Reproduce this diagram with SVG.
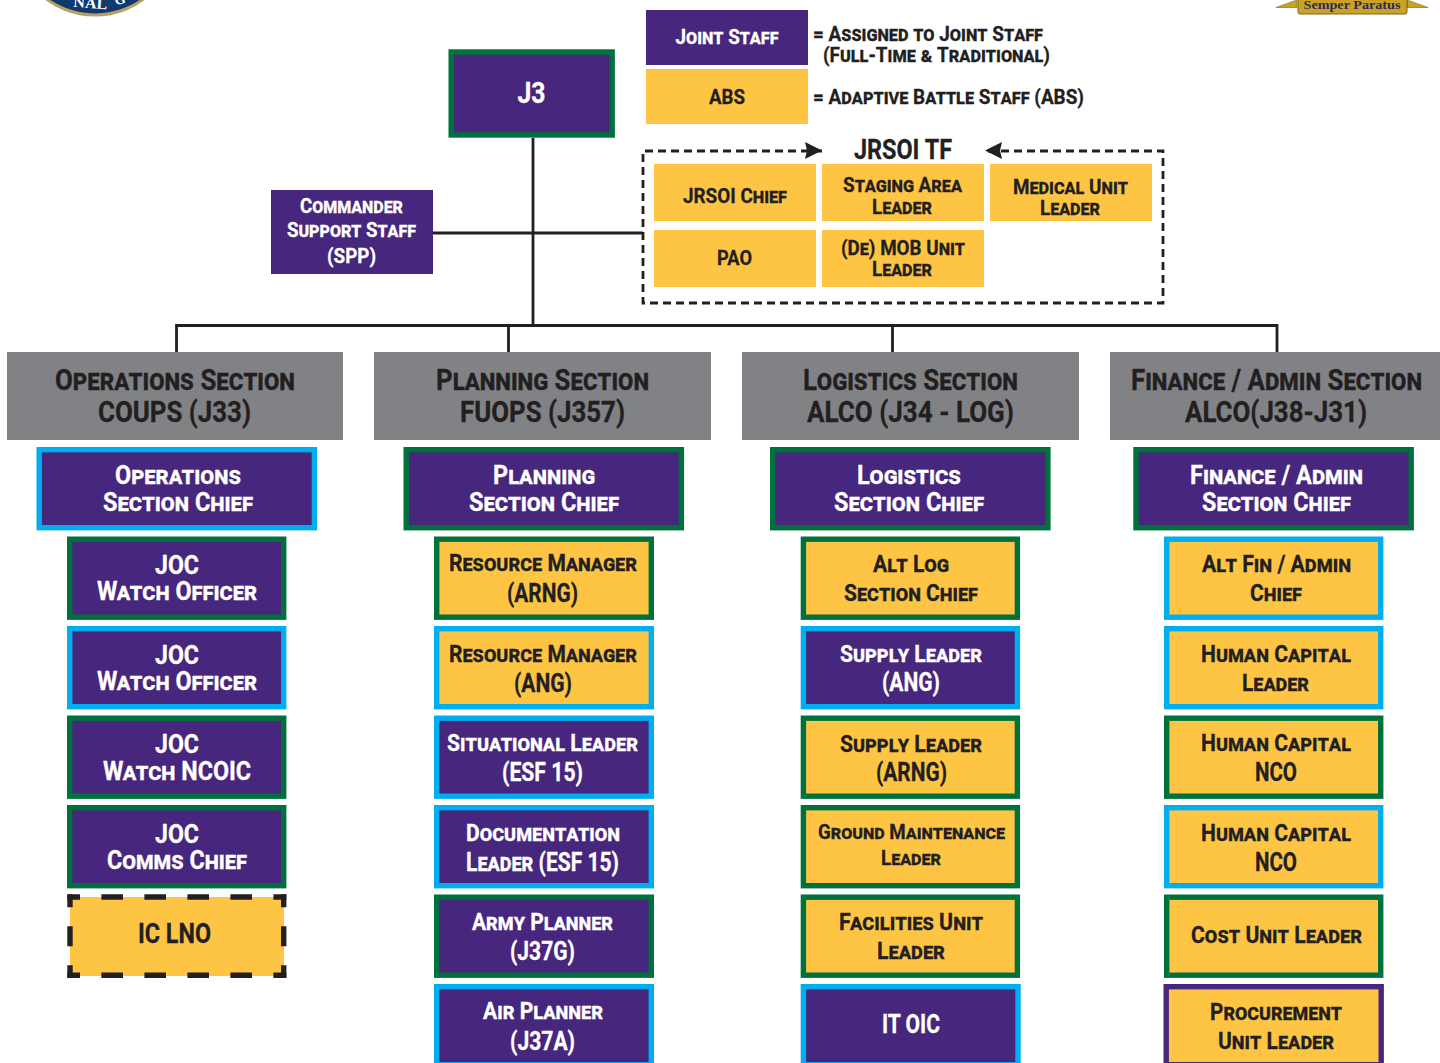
<svg xmlns="http://www.w3.org/2000/svg" width="1440" height="1063" viewBox="0 0 1440 1063">
<defs>
<style>
text{font-family:Roboto,"Liberation Sans",sans-serif;font-weight:700;font-variant:small-caps;text-anchor:middle;fill:#231f20;stroke:#231f20;stroke-width:.3}
.w{fill:#fff;stroke:#fff}
.s21{font-size:21px}.s23{font-size:23px}.s25{font-size:25px}.s28{font-size:29px}.s20{font-size:20px}
.l{text-anchor:start}
.serif{font-family:"Liberation Serif",serif;font-variant:normal;stroke-width:0}
.p{fill:#47267d}.y{fill:#fec544}.g{fill:#808285}
.bg{stroke:#00703c;stroke-width:5.4}.bc{stroke:#00aeef;stroke-width:5.4}.bp{stroke:#47267d;stroke-width:5.4}
.c{fill:none;stroke:#231f20;stroke-width:2.8}
.d{fill:none;stroke:#231f20;stroke-width:2.8;stroke-dasharray:8 5}
.ic{fill:none;stroke:#231f20;stroke-width:5.4}
</style>
</defs>
<rect width="1440" height="1063" fill="#fff"/>
<g id="seal">
<circle cx="95" cy="-67" r="82" fill="#0f3a6e" stroke="#b9a063" stroke-width="3"/>
<text x="90" y="8" class="w serif" style="font-size:15px" textLength="34" lengthAdjust="spacingAndGlyphs" transform="rotate(4 90 8)">NAL</text>
<text x="121" y="4" class="w serif" style="font-size:14px" transform="rotate(-14 121 4)">G</text>
</g>
<g id="motto">
<path d="M1276 7.500 L1297 0 L1297 7.500Z M1428 7.500 L1407 0 L1407 7.500Z" fill="#c9a227" stroke="#7a6418" stroke-width=".6"/>
<rect x="1298" y="-4" width="109" height="18" rx="2" fill="#c9a227" stroke="#7a6418"/>
<text x="1352" y="9" class="serif" style="font-size:12.5px;fill:#2b2c55" textLength="97" lengthAdjust="spacingAndGlyphs">Semper Paratus</text>
</g>
<g id="connectors">
<path class="c" d="M533 138V325M433 233H643M176.500 352V325.500H1277V352M508.500 325.500V352M892.500 325.500V352"/>
<path class="d" d="M822 151H643V303H1163V151H985"/>
<path d="M805 142 L822 150.500 L805 159 L807 150.500Z M985 150.500 L1002 142 L1000 150.500 L1002 159Z" fill="#231f20"/>
</g>
<g id="j3"><rect class="p bg" x="451.200" y="52" width="161" height="83"/><text class="w s28" x="531.500" y="103" textLength="28" lengthAdjust="spacingAndGlyphs">J3</text></g>
<g id="css"><rect class="p" x="271" y="190" width="162" height="84"/><text class="w s21" x="351.500" y="213" textLength="103" lengthAdjust="spacingAndGlyphs">Commander</text><text class="w s21" x="351.500" y="237" textLength="129" lengthAdjust="spacingAndGlyphs">Support Staff</text><text class="w s21" x="351.500" y="263" textLength="49" lengthAdjust="spacingAndGlyphs">(SPP)</text></g>
<g id="legend-js"><rect class="p" x="646" y="10" width="162" height="55"/><text class="w s21" x="727" y="44" textLength="103" lengthAdjust="spacingAndGlyphs">Joint Staff</text></g>
<g id="legend-abs"><rect class="y" x="646" y="69" width="162" height="55"/><text class="s21" x="727" y="104" textLength="36" lengthAdjust="spacingAndGlyphs">ABS</text></g>
<g id="legend-text">
<text class="s21 l" x="813" y="41" textLength="230" lengthAdjust="spacingAndGlyphs">= Assigned to Joint Staff</text>
<text class="s21 l" x="823" y="62" textLength="227" lengthAdjust="spacingAndGlyphs">(Full-Time &amp; Traditional)</text>
<text class="s21 l" x="813" y="104" textLength="271" lengthAdjust="spacingAndGlyphs">= Adaptive Battle Staff (ABS)</text>
</g>
<g id="jrsoi-title"><text class="s28" x="903" y="159" textLength="98" lengthAdjust="spacingAndGlyphs" style="font-size:28px">JRSOI TF</text></g>
<g id="jrsoi-chief"><rect class="y" x="654" y="164" width="162" height="57"/><text class="s21" x="735" y="203" textLength="104" lengthAdjust="spacingAndGlyphs">JRSOI Chief</text></g>
<g id="staging"><rect class="y" x="822" y="164" width="162" height="57"/><text class="s21" x="902.500" y="192" textLength="119" lengthAdjust="spacingAndGlyphs">Staging Area</text><text class="s21" x="902" y="214" textLength="60" lengthAdjust="spacingAndGlyphs">Leader</text></g>
<g id="medical"><rect class="y" x="990" y="164" width="162" height="57"/><text class="s21" x="1070.500" y="194" textLength="115" lengthAdjust="spacingAndGlyphs">Medical Unit</text><text class="s21" x="1070" y="215" textLength="60" lengthAdjust="spacingAndGlyphs">Leader</text></g>
<g id="pao"><rect class="y" x="654" y="230" width="162" height="57"/><text class="s21" x="734.500" y="265" textLength="35" lengthAdjust="spacingAndGlyphs">PAO</text></g>
<g id="demob"><rect class="y" x="822" y="230" width="162" height="57"/><text class="s21" x="903" y="255" textLength="124" lengthAdjust="spacingAndGlyphs">(De) MOB Unit</text><text class="s21" x="902" y="276" textLength="60" lengthAdjust="spacingAndGlyphs">Leader</text></g>

<g id="sec-ops"><rect class="g" x="7" y="352" width="336" height="88"/><text class="s28" x="175" y="390" textLength="240" lengthAdjust="spacingAndGlyphs">Operations Section</text><text class="s28" x="174.500" y="422" textLength="153" lengthAdjust="spacingAndGlyphs">COUPS (J33)</text></g>
<g id="sec-plan"><rect class="g" x="374" y="352" width="337" height="88"/><text class="s28" x="542.500" y="390" textLength="213" lengthAdjust="spacingAndGlyphs">Planning Section</text><text class="s28" x="542.500" y="422" textLength="165" lengthAdjust="spacingAndGlyphs">FUOPS (J357)</text></g>
<g id="sec-log"><rect class="g" x="742" y="352" width="337" height="88"/><text class="s28" x="910.500" y="390" textLength="215" lengthAdjust="spacingAndGlyphs">Logistics Section</text><text class="s28" x="910.500" y="422" textLength="207" lengthAdjust="spacingAndGlyphs">ALCO (J34 - LOG)</text></g>
<g id="sec-fin"><rect class="g" x="1110" y="352" width="330" height="88"/><text class="s28" x="1276.500" y="390" textLength="291" lengthAdjust="spacingAndGlyphs">Finance / Admin Section</text><text class="s28" x="1276" y="422" textLength="182" lengthAdjust="spacingAndGlyphs">ALCO(J38-J31)</text></g>

<g id="chief-ops"><rect class="p bc" x="39.200" y="449.700" width="275.200" height="78"/><text class="w s25" x="178" y="484" textLength="126" lengthAdjust="spacingAndGlyphs">Operations</text><text class="w s25" x="178" y="511" textLength="150" lengthAdjust="spacingAndGlyphs">Section Chief</text></g>
<g id="chief-plan"><rect class="p bg" x="406.200" y="449.700" width="275.200" height="78"/><text class="w s25" x="544" y="484" textLength="102" lengthAdjust="spacingAndGlyphs">Planning</text><text class="w s25" x="544" y="511" textLength="150" lengthAdjust="spacingAndGlyphs">Section Chief</text></g>
<g id="chief-log"><rect class="p bg" x="772.700" y="449.700" width="275.200" height="78"/><text class="w s25" x="909" y="484" textLength="104" lengthAdjust="spacingAndGlyphs">Logistics</text><text class="w s25" x="909" y="511" textLength="150" lengthAdjust="spacingAndGlyphs">Section Chief</text></g>
<g id="chief-fin"><rect class="p bg" x="1136" y="449.700" width="275.200" height="78"/><text class="w s25" x="1276.500" y="484" textLength="173" lengthAdjust="spacingAndGlyphs">Finance / Admin</text><text class="w s25" x="1276.500" y="511" textLength="149" lengthAdjust="spacingAndGlyphs">Section Chief</text></g>

<g id="ops1"><rect class="p bg" x="69.700" y="539.200" width="214" height="78"/><text class="w s25" x="177" y="574" textLength="44" lengthAdjust="spacingAndGlyphs">JOC</text><text class="w s25" x="177" y="600" textLength="160" lengthAdjust="spacingAndGlyphs">Watch Officer</text></g>
<g id="ops2"><rect class="p bc" x="69.700" y="628.700" width="214" height="78"/><text class="w s25" x="177" y="664" textLength="44" lengthAdjust="spacingAndGlyphs">JOC</text><text class="w s25" x="177" y="690" textLength="160" lengthAdjust="spacingAndGlyphs">Watch Officer</text></g>
<g id="ops3"><rect class="p bg" x="69.700" y="718.200" width="214" height="78"/><text class="w s25" x="177" y="753" textLength="44" lengthAdjust="spacingAndGlyphs">JOC</text><text class="w s25" x="177" y="780" textLength="148" lengthAdjust="spacingAndGlyphs">Watch NCOIC</text></g>
<g id="ops4"><rect class="p bg" x="69.700" y="807.700" width="214" height="78"/><text class="w s25" x="177" y="843" textLength="44" lengthAdjust="spacingAndGlyphs">JOC</text><text class="w s25" x="177" y="869" textLength="140" lengthAdjust="spacingAndGlyphs">Comms Chief</text></g>
<g id="ops5"><rect class="y" x="70" y="897" width="214" height="79"/>
<path class="ic" d="M67.300 897H286.300M67.300 975.200H286.300" stroke-dasharray="21.600 21.400" stroke-dashoffset="8.900"/>
<path class="ic" d="M70 894.300V977.900M283.700 894.300V977.900" stroke-dasharray="20 19" stroke-dashoffset="7"/>
<text class="s28" x="174.500" y="943" textLength="73" lengthAdjust="spacingAndGlyphs" style="font-size:27px">IC LNO</text></g>

<g id="plan1"><rect class="y bg" x="436.700" y="539.200" width="214.600" height="78"/><text class="s23" x="543" y="571" textLength="188" lengthAdjust="spacingAndGlyphs">Resource Manager</text><text class="s25" x="542.500" y="602" textLength="71" lengthAdjust="spacingAndGlyphs">(ARNG)</text></g>
<g id="plan2"><rect class="y bc" x="436.700" y="628.700" width="214.600" height="78"/><text class="s23" x="543" y="662" textLength="188" lengthAdjust="spacingAndGlyphs">Resource Manager</text><text class="s25" x="543" y="692" textLength="58" lengthAdjust="spacingAndGlyphs">(ANG)</text></g>
<g id="plan3"><rect class="p bc" x="436.700" y="718.200" width="214.600" height="78"/><text class="w s23" x="542.500" y="751" textLength="191" lengthAdjust="spacingAndGlyphs">Situational Leader</text><text class="w s25" x="542.500" y="781" textLength="81" lengthAdjust="spacingAndGlyphs">(ESF 15)</text></g>
<g id="plan4"><rect class="p bc" x="436.700" y="807.700" width="214.600" height="78"/><text class="w s23" x="543" y="841" textLength="154" lengthAdjust="spacingAndGlyphs">Documentation</text><text class="w s25" x="542.500" y="871" textLength="153" lengthAdjust="spacingAndGlyphs">Leader (ESF 15)</text></g>
<g id="plan5"><rect class="p bg" x="436.700" y="897.200" width="214.600" height="78"/><text class="w s23" x="542.500" y="930" textLength="141" lengthAdjust="spacingAndGlyphs">Army Planner</text><text class="w s25" x="542.500" y="960" textLength="65" lengthAdjust="spacingAndGlyphs">(J37G)</text></g>
<g id="plan6"><rect class="p bc" x="436.700" y="986.700" width="214.600" height="78"/><text class="w s23" x="543" y="1019" textLength="120" lengthAdjust="spacingAndGlyphs">Air Planner</text><text class="w s25" x="542.500" y="1050" textLength="65" lengthAdjust="spacingAndGlyphs">(J37A)</text></g>

<g id="log1"><rect class="y bg" x="803.400" y="539.200" width="214" height="78"/><text class="s23" x="911" y="572" textLength="76" lengthAdjust="spacingAndGlyphs">Alt Log</text><text class="s23" x="911" y="601" textLength="134" lengthAdjust="spacingAndGlyphs">Section Chief</text></g>
<g id="log2"><rect class="p bc" x="803.400" y="628.700" width="214" height="78"/><text class="w s23" x="911" y="662" textLength="142" lengthAdjust="spacingAndGlyphs">Supply Leader</text><text class="w s25" x="911" y="691" textLength="58" lengthAdjust="spacingAndGlyphs">(ANG)</text></g>
<g id="log3"><rect class="y bg" x="803.400" y="718.200" width="214" height="78"/><text class="s23" x="911" y="752" textLength="142" lengthAdjust="spacingAndGlyphs">Supply Leader</text><text class="s25" x="911.500" y="781" textLength="71" lengthAdjust="spacingAndGlyphs">(ARNG)</text></g>
<g id="log4"><rect class="y bg" x="803.400" y="807.700" width="214" height="78"/><text class="s20" x="911.500" y="839" textLength="187" lengthAdjust="spacingAndGlyphs">Ground Maintenance</text><text class="s20" x="911" y="865" textLength="60" lengthAdjust="spacingAndGlyphs">Leader</text></g>
<g id="log5"><rect class="y bg" x="803.400" y="897.200" width="214" height="78"/><text class="s23" x="911" y="930" textLength="144" lengthAdjust="spacingAndGlyphs">Facilities Unit</text><text class="s23" x="911" y="959" textLength="68" lengthAdjust="spacingAndGlyphs">Leader</text></g>
<g id="log6"><rect class="p bc" x="803.400" y="986.700" width="214.600" height="78"/><text class="w s25" x="911" y="1033" textLength="58" lengthAdjust="spacingAndGlyphs">IT OIC</text></g>

<g id="fin1"><rect class="y bc" x="1166.700" y="539.200" width="214" height="78"/><text class="s23" x="1276.500" y="572" textLength="149" lengthAdjust="spacingAndGlyphs">Alt Fin / Admin</text><text class="s23" x="1276" y="601" textLength="52" lengthAdjust="spacingAndGlyphs">Chief</text></g>
<g id="fin2"><rect class="y bc" x="1166.700" y="628.700" width="214" height="78"/><text class="s23" x="1276" y="662" textLength="150" lengthAdjust="spacingAndGlyphs">Human Capital</text><text class="s23" x="1275.500" y="691" textLength="67" lengthAdjust="spacingAndGlyphs">Leader</text></g>
<g id="fin3"><rect class="y bg" x="1166.700" y="718.200" width="214" height="78"/><text class="s23" x="1276" y="751" textLength="150" lengthAdjust="spacingAndGlyphs">Human Capital</text><text class="s25" x="1276" y="781" textLength="42" lengthAdjust="spacingAndGlyphs">NCO</text></g>
<g id="fin4"><rect class="y bc" x="1166.700" y="807.700" width="214" height="78"/><text class="s23" x="1276" y="841" textLength="150" lengthAdjust="spacingAndGlyphs">Human Capital</text><text class="s25" x="1276" y="871" textLength="42" lengthAdjust="spacingAndGlyphs">NCO</text></g>
<g id="fin5"><rect class="y bg" x="1166.700" y="897.200" width="214" height="78"/><text class="s23" x="1276.500" y="943" textLength="171" lengthAdjust="spacingAndGlyphs">Cost Unit Leader</text></g>
<g id="fin6"><rect class="y bp" x="1166.200" y="986.700" width="215" height="78"/><text class="s23" x="1276" y="1020" textLength="132" lengthAdjust="spacingAndGlyphs">Procurement</text><text class="s23" x="1276" y="1049" textLength="116" lengthAdjust="spacingAndGlyphs">Unit Leader</text></g>
</svg>
